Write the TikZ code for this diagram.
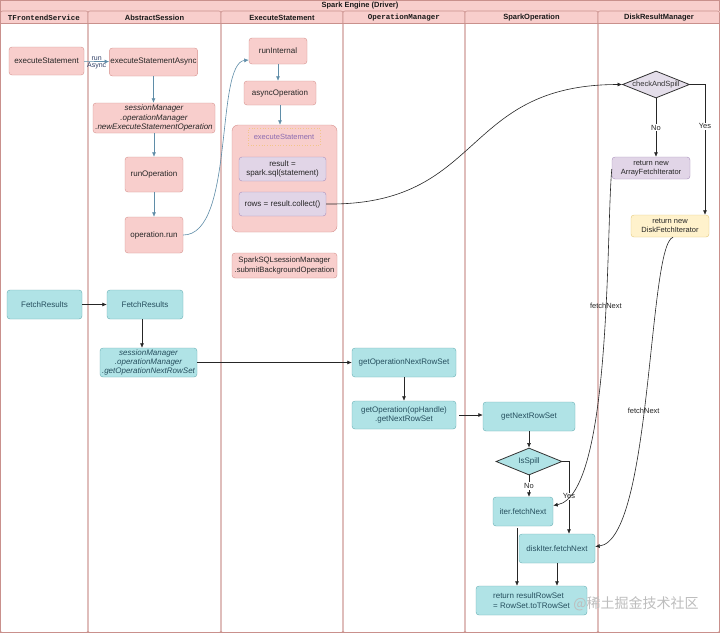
\documentclass[tikz,border=0pt]{standalone}
\usepackage{fontspec}
\setmainfont{Liberation Sans}
\setmonofont{Liberation Mono}
\newfontfamily\cjkwm{Noto Sans CJK SC}
\usetikzlibrary{arrows.meta,shapes.geometric,calc}
\definecolor{pinkf}{HTML}{F8CECC}
\definecolor{pinkd}{HTML}{D6928E}
\definecolor{lanec}{HTML}{C9908C}
\definecolor{tealf}{HTML}{B0E3E6}
\definecolor{teald}{HTML}{6AAFB5}
\definecolor{purf}{HTML}{E1D5E7}
\definecolor{purd}{HTML}{A990BD}
\definecolor{yelf}{HTML}{FFF2CC}
\definecolor{yeld}{HTML}{E3C97A}
\definecolor{bluearr}{HTML}{5F8DA8}
\definecolor{tealtxt}{HTML}{264F5E}
\definecolor{titlepur}{HTML}{8C6BB1}
\definecolor{dotor}{HTML}{F2C58A}
\definecolor{diagray}{HTML}{E4DEEA}
\definecolor{wmgray}{HTML}{BDBDBD}
\definecolor{runtxt}{HTML}{2F3F66}
\tikzset{
  box/.style={rounded corners=3pt, align=center, inner sep=1pt, font=\fontsize{8}{9.6}\selectfont},
  pinkbox/.style={box, fill=pinkf, draw=pinkd, text=black!85},
  tealbox/.style={box, fill=tealf, draw=teald, text=tealtxt},
  purbox/.style={box, fill=purf, draw=purd, text=black!85},
  yelbox/.style={box, fill=yelf, draw=yeld, text=black!85},
  dia/.style={diamond, inner sep=0pt, draw=black!80, line width=0.8pt},
  barr/.style={draw=bluearr, -{Latex[length=4.5pt,width=4pt]}, line width=0.6pt},
  karr/.style={draw=black!85, -{Latex[length=4.5pt,width=4pt]}, line width=0.6pt},
  lbl/.style={font=\fontsize{7.5}{9}\selectfont, inner sep=1pt, text=black!85},
  wlbl/.style={lbl, fill=white},
  hdr/.style={font=\bfseries\fontsize{7.5}{9}\selectfont, text=black!90},
  mhdr/.style={font=\ttfamily\bfseries\fontsize{7.5}{9}\selectfont, text=black!90},
  lanebox/.style={draw=lanec, line width=0.6pt, rounded corners=2pt},
  runlbl/.style={font=\fontsize{7}{8}\selectfont, inner sep=0.5pt, text=runtxt},
}
\begin{document}
\begin{tikzpicture}[x=1pt,y=-1pt]
\useasboundingbox (0,0) rectangle (720,633);
% pool
\fill[white] (0,0) rectangle (720,633);
\draw[lanec, fill=pinkf, line width=0.6pt] (0.5,0.5) rectangle (719.5,11);
\draw[lanec, line width=0.6pt] (0.5,0.5) rectangle (719.5,632.5);
\node[hdr] (title) at (360,6) {Spark Engine (Driver)};
% lanes
\foreach \a/\b in {0.5/88,88/221,221/343,343/465,465/598,598/719.5}{
  \fill[pinkf] (\a,11) rectangle (\b,23);
  \draw[lanec, line width=0.6pt] (\a,23) -- (\b,23);
  \draw[lanebox] (\a,11) rectangle (\b,632.5);
}
\node[mhdr] (h1) at (44,17.5) {TFrontendService};
\node[hdr] (h2) at (154.5,17.5) {AbstractSession};
\node[hdr] (h3) at (282,17.5) {ExecuteStatement};
\node[mhdr] (h4) at (404,17.5) {OperationManager};
\node[hdr] (h5) at (531.5,17.5) {SparkOperation};
\node[hdr] (h6) at (659,17.5) {DiskResultManager};

% ---- pink part
\node[pinkbox, minimum width=75, minimum height=28] (es1) at (46.5,61) {executeStatement};
\node[pinkbox, minimum width=87, minimum height=28] (esa) at (153.5,62) {executeStatementAsync};
\node[pinkbox, minimum width=122, minimum height=30, font=\itshape\fontsize{8}{9.4}\selectfont] (newop) at (154,118) {sessionManager\\.operationManager\\.newExecuteStatementOperation};
\node[pinkbox, minimum width=58, minimum height=35] (runop) at (154,174.5) {runOperation};
\node[pinkbox, minimum width=58, minimum height=36] (oprun) at (154,235) {operation.run};
\node[pinkbox, minimum width=58, minimum height=26] (runint) at (278,51) {runInternal};
\node[pinkbox, minimum width=72, minimum height=24] (asyncop) at (280,93) {asyncOperation};
\node[pinkbox, minimum width=105, minimum height=107, rounded corners=6pt] (cont) at (284.5,178.5) {};
\node[draw=dotor, dotted, line width=0.7pt, minimum width=72, minimum height=17, inner sep=1pt, text=titlepur, font=\fontsize{7.5}{9}\selectfont] (conttitle) at (284,137) {executeStatement};
\node[purbox, minimum width=87, minimum height=24] (res) at (282.5,169) {result =\\spark.sql(statement)};
\node[purbox, minimum width=87, minimum height=24] (rows) at (282.5,204) {rows = result.collect()};
\node[pinkbox, minimum width=105, minimum height=25, font=\fontsize{7.7}{9.2}\selectfont] (submit) at (284.5,265.5) {SparkSQLsessionManager\\.submitBackgroundOperation};

\draw[barr] (es1) -- (esa)
  node[midway, above=0.5pt, runlbl] (lrun) {run}
  node[midway, below=0.5pt, runlbl] (lasync) {Async};
\draw[barr] (esa.south) -- (esa.south |- newop.north);
\draw[barr] (newop.south) -- (newop.south |- runop.north);
\draw[barr] (runop) -- (oprun);
\draw[barr] (oprun.east) .. controls (235,235) and (215,63) .. ([yshift=-9pt]runint.west);
\draw[barr] (runint.south) -- (runint.south |- asyncop.north);
\draw[barr] (asyncop.south) -- (asyncop.south |- cont.north);

% ---- right top
\node[dia, fill=diagray, minimum width=67, minimum height=27,
  label={[font=\fontsize{7.5}{9}\selectfont, text=black!80]center:checkAndSpill}] (cs) at (656,84.5) {};
\node[purbox, minimum width=78, minimum height=22, font=\fontsize{7.5}{9}\selectfont] (arrit) at (651,168) {return new\\ArrayFetchIterator};
\node[yelbox, minimum width=78, minimum height=22, font=\fontsize{7.5}{9}\selectfont] (diskit) at (670,226) {return new\\DiskFetchIterator};
\draw[karr] (rows.east) .. controls (485,206) and (460,84.5) .. (cs.west);
\draw[karr] (cs.south) -- node[wlbl] (lno1) {No} (cs.south |- arrit.north);
\draw[karr] (cs.east) -| node[wlbl, pos=0.66] (lyes1) {Yes} ([xshift=35pt]diskit.north);

% ---- teal part
\node[tealbox, minimum width=75, minimum height=29] (fr1) at (44.5,304.5) {FetchResults};
\node[tealbox, minimum width=76, minimum height=29] (fr2) at (145,304.5) {FetchResults};
\node[tealbox, minimum width=97, minimum height=29, font=\itshape\fontsize{8}{9.2}\selectfont] (getop1) at (148.5,362.5) {sessionManager\\.operationManager\\.getOperationNextRowSet};
\node[tealbox, minimum width=104, minimum height=29] (gonrs) at (404,362.5) {getOperationNextRowSet};
\node[tealbox, minimum width=104, minimum height=28] (gonext) at (404,415) {getOperation(opHandle)\\.getNextRowSet};
\node[tealbox, minimum width=92, minimum height=29] (gnrs) at (529,416.5) {getNextRowSet};
\node[dia, fill=tealf, minimum width=66, minimum height=27,
  label={[font=\fontsize{8}{9}\selectfont, text=tealtxt]center:IsSpill}] (isspill) at (529,461.5) {};
\node[tealbox, minimum width=60, minimum height=29] (iterf) at (523,511.5) {iter.fetchNext};
\node[tealbox, minimum width=76, minimum height=29] (diskf) at (557,548.5) {diskIter.fetchNext};
\node[tealbox, minimum width=111, minimum height=29, align=left] (ret) at (531.5,600.5) {return resultRowSet\\= RowSet.toTRowSet};

\draw[karr] (fr1) -- (fr2);
\draw[karr] ([xshift=-3pt]fr2.south) -- ([xshift=-3pt]fr2.south |- getop1.north);
\draw[karr] (getop1.east) -- (getop1.east -| gonrs.west);
\draw[karr] (gonrs) -- (gonext);
\draw[karr] ([xshift=3pt]gonext.east) -- (gonext.east -| gnrs.west);
\draw[karr] (gnrs) -- (isspill);
\draw[karr] (isspill.south) -- node[wlbl] (lno2) {No} (isspill.south |- iterf.north);
\draw[karr] (isspill.east) -| node[wlbl, pos=0.74] (lyes2) {Yes} ([xshift=12pt]diskf.north);
\draw[karr] ([xshift=-6pt,yshift=-2pt]iterf.south) -- ([xshift=-6pt]iterf.south |- ret.north);
\draw[karr] (diskf.south) -- (diskf.south |- ret.north);

\draw[karr] ([yshift=-1pt]arrit.west) .. controls (606,230) and (612,495) .. ([yshift=6pt]iterf.east)
  node[pos=0.39, lbl] (lfn1) {fetchNext};
\draw[karr] ([xshift=3pt]diskit.south) .. controls (648,245) and (652,540) .. ([yshift=2pt]diskf.east)
  node[pos=0.54, lbl] (lfn2) {fetchNext};

% watermark
\node[text=wmgray, font=\cjkwm\fontsize{14}{16}\selectfont, inner sep=0pt] (wm) at (636,604) {@稀土掘金技术社区};
\end{tikzpicture}
\end{document}
